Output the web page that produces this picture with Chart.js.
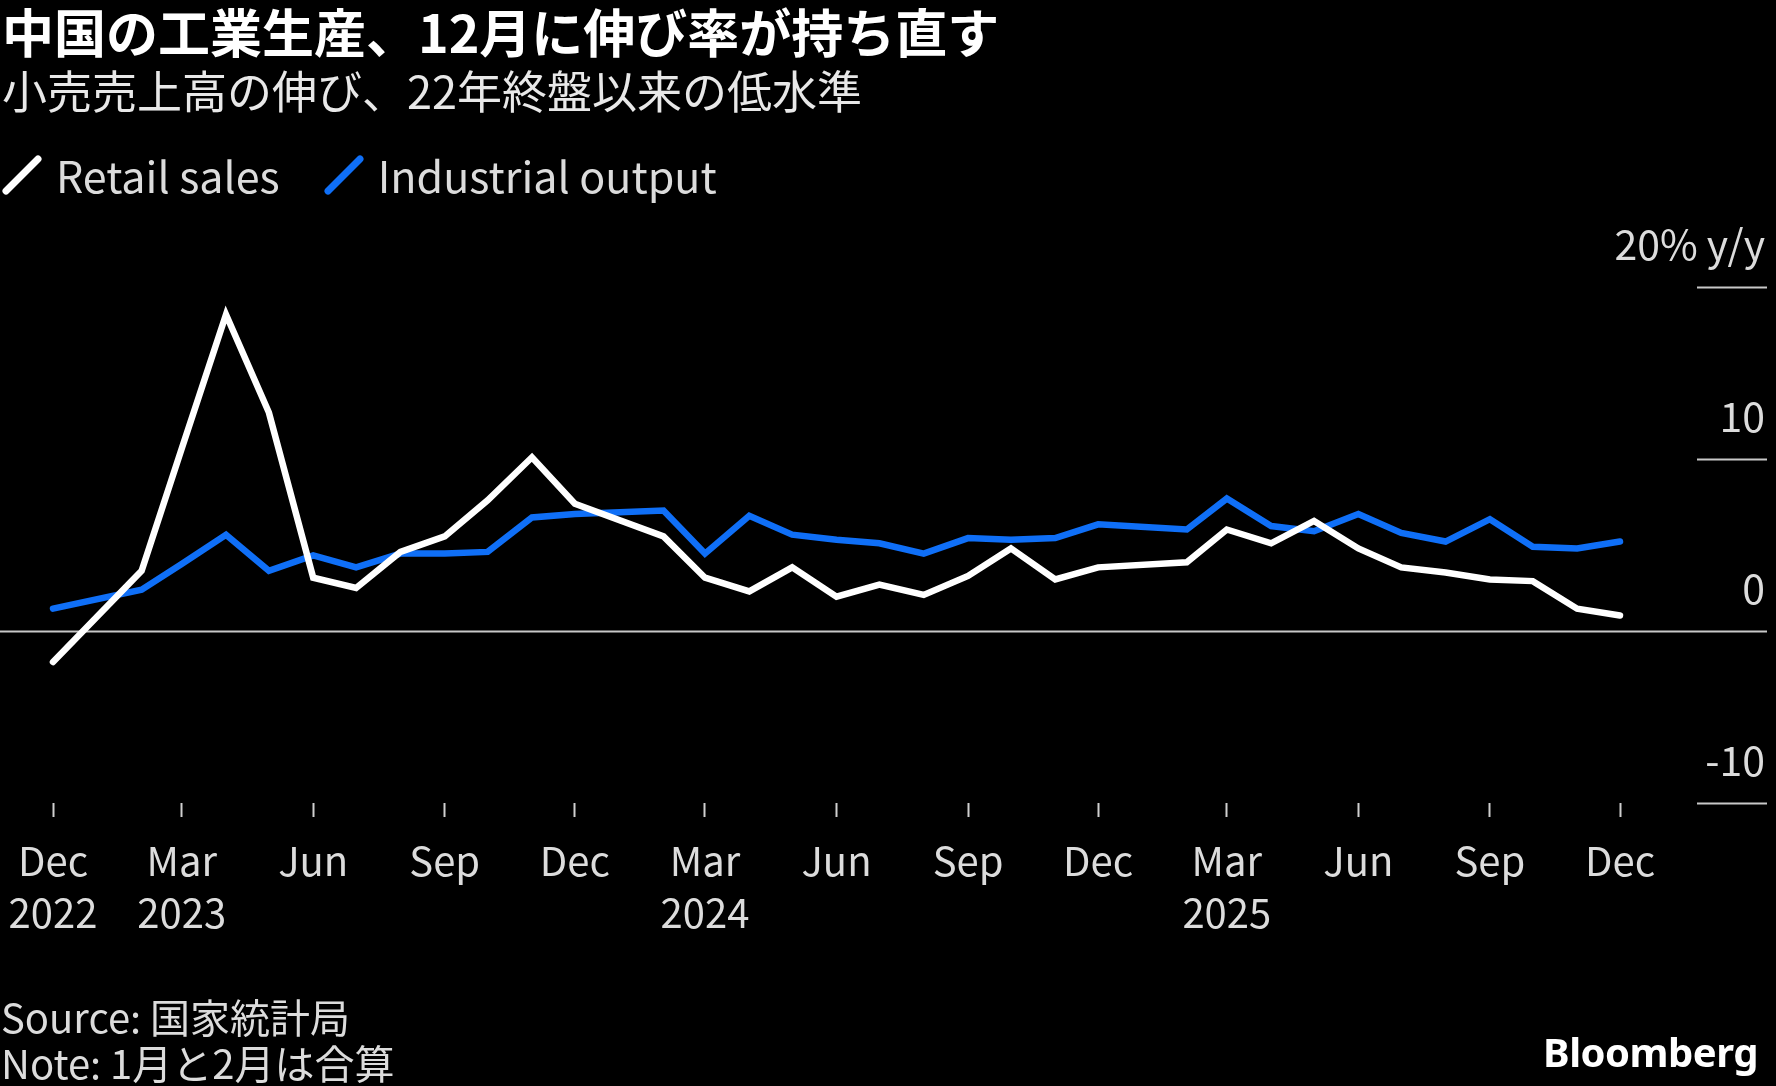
<!DOCTYPE html>
<html>
<head>
<meta charset="utf-8">
<script src="https://cdn.jsdelivr.net/npm/chart.js@4.4.1/dist/chart.umd.min.js"></script>
<style>
  html, body { margin: 0; padding: 0; background: #000; }
  body { width: 1776px; height: 1086px; position: relative; overflow: hidden; font-family: "Noto Sans CJK JP", sans-serif; }
  #wrap { position: absolute; left: 0; top: 0; width: 1776px; height: 1086px; }
  .txt { position: absolute; white-space: nowrap; line-height: 1; }
  #title { left: 2px; top: 5px; font-size: 52px; font-weight: 700; color: #fff; }
  #subtitle { left: 2px; top: 67px; font-size: 45px; color: #e8e8e8; }
  #legend { left: 2px; top: 153px; font-size: 43px; color: #dcdcdc; display: flex; align-items: center; }
  #legend svg { margin-right: 14px; }
  #legend span { margin-right: 44px; }
  #source { left: 1px; top: 996px; font-size: 40px; color: #dcdcdc; }
  #note { left: 1px; top: 1042px; font-size: 40px; color: #dcdcdc; }
  #logo { right: 18px; top: 1032px; font-family: "Noto Sans", sans-serif; font-size: 40px; font-weight: 700; color: #fff; letter-spacing: -0.5px; }
</style>
</head>
<body>
<div id="wrap"><canvas id="myChart"></canvas></div>
<div class="txt" id="title">中国の工業生産、12月に伸び率が持ち直す</div>
<div class="txt" id="subtitle">小売売上高の伸び、22年終盤以来の低水準</div>
<div class="txt" id="legend">
  <svg width="40" height="40"><line x1="4" y1="36" x2="36" y2="4" stroke="#ffffff" stroke-width="7" stroke-linecap="round"/></svg><span>Retail sales</span>
  <svg width="40" height="40"><line x1="4" y1="36" x2="36" y2="4" stroke="#0f6ff7" stroke-width="7" stroke-linecap="round"/></svg><span>Industrial output</span>
</div>
<div class="txt" id="source">Source: 国家統計局</div>
<div class="txt" id="note">Note: 1月と2月は合算</div>
<div class="txt" id="logo">Bloomberg</div>
<script>
const months = [
  "Dec 2022",
  "Jan 2023", "Feb 2023", "Mar 2023", "Apr 2023", "May 2023", "Jun 2023",
  "Jul 2023", "Aug 2023", "Sep 2023", "Oct 2023", "Nov 2023", "Dec 2023",
  "Jan 2024", "Feb 2024", "Mar 2024", "Apr 2024", "May 2024", "Jun 2024",
  "Jul 2024", "Aug 2024", "Sep 2024", "Oct 2024", "Nov 2024", "Dec 2024",
  "Jan 2025", "Feb 2025", "Mar 2025", "Apr 2025", "May 2025", "Jun 2025",
  "Jul 2025", "Aug 2025", "Sep 2025", "Oct 2025", "Nov 2025", "Dec 2025",
];
// January is combined with February, so it stays empty
const retailSales = [
  -1.8,
  null, 3.5, 10.6, 18.4, 12.7, 3.1, 2.5, 4.6, 5.5, 7.6, 10.1, 7.4,
  null, 5.5, 3.1, 2.3, 3.7, 2.0, 2.7, 2.1, 3.2, 4.8, 3.0, 3.7,
  null, 4.0, 5.9, 5.1, 6.4, 4.8, 3.7, 3.4, 3.0, 2.9, 1.3, 0.9,
];
const industrialOutput = [
  1.3,
  null, 2.4, 3.9, 5.6, 3.5, 4.4, 3.7, 4.5, 4.5, 4.6, 6.6, 6.8,
  null, 7.0, 4.5, 6.7, 5.6, 5.3, 5.1, 4.5, 5.4, 5.3, 5.4, 6.2,
  null, 5.9, 7.7, 6.1, 5.8, 6.8, 5.7, 5.2, 6.5, 4.9, 4.8, 5.2,
];
const tickMonths = ["Mar", "Jun", "Sep", "Dec"];
const yearLabels = { "Dec 2022": "2022", "Mar 2023": "2023", "Mar 2024": "2024", "Mar 2025": "2025" };
const yTicks = [-10, 0, 10, 20];
const yTickLabels = ["-10", "0", "10", "20% y/y"];

const monthNames = ["Jan", "Feb", "Mar", "Apr", "May", "Jun", "Jul", "Aug", "Sep", "Oct", "Nov", "Dec"];
// days since the first month, so the x axis runs on real time like the original
const toDate = (m) => {
  const p = m.split(" ");
  return Date.UTC(+p[1], monthNames.indexOf(p[0]), 1);
};
const t0 = toDate(months[0]);
const dayOf = (m) => Math.round((toDate(m) - t0) / 86400000);
const isTick = (m) => tickMonths.includes(m.split(" ")[0]);
const toPoints = (arr) => arr.map((v, i) => ({ x: dayOf(months[i]), y: v }));

// right-hand value labels and the short grid stubs, zero line across the page
const yLabelsPlugin = {
  id: "yLabels",
  beforeDatasetsDraw(chart) {
    const c = chart.ctx;
    const y = chart.scales.y;
    c.save();
    c.strokeStyle = "#c8c8c8";
    c.lineWidth = 2;
    yTicks.forEach((v) => {
      const py = Math.round(y.getPixelForValue(v)) + 0.5;
      c.beginPath();
      c.moveTo(v === 0 ? 0 : 1697, py);
      c.lineTo(1767, py);
      c.stroke();
    });
    c.restore();
  },
  afterDraw(chart) {
    const c = chart.ctx;
    const y = chart.scales.y;
    c.save();
    c.fillStyle = "#dcdcdc";
    c.font = '41px "Noto Sans CJK JP"';
    c.textAlign = "right";
    c.textBaseline = "middle";
    yTicks.forEach((v, i) => {
      c.fillText(yTickLabels[i], 1765, y.getPixelForValue(v) - 43);
    });
    c.restore();
  },
};

const ctx = document.getElementById("myChart");
const data = {
  datasets: [
    {
      label: "Retail sales",
      data: toPoints(retailSales),
      borderColor: "#ffffff",
      borderWidth: 6.5,
      pointRadius: 0,
      tension: 0,
      spanGaps: true,
      borderCapStyle: "round",
      clip: false,
    },
    {
      label: "Industrial output",
      data: toPoints(industrialOutput),
      borderColor: "#0f6ff7",
      borderWidth: 6.5,
      pointRadius: 0,
      tension: 0,
      spanGaps: true,
      borderCapStyle: "round",
      clip: false,
    },
  ],
};
const config = {
  type: "line",
  data: data,
  options: {
    responsive: true,
    maintainAspectRatio: false,
    animation: false,
    layout: { padding: { left: 53, right: 156, top: 287, bottom: 128 } },
    plugins: { legend: { display: false }, tooltip: { enabled: false } },
    scales: {
      x: {
        type: "linear",
        min: 0,
        max: dayOf(months[months.length - 1]),
        border: { display: false },
        grid: {
          drawOnChartArea: false,
          drawTicks: true,
          tickLength: 14,
          tickWidth: 2,
          tickColor: "#cfcfcf",
        },
        afterBuildTicks: (scale) => {
          scale.ticks = months.filter(isTick).map((m) => ({ value: dayOf(m) }));
        },
        ticks: {
          autoSkip: false,
          maxRotation: 0,
          padding: 18,
          color: "#dcdcdc",
          font: { family: "Noto Sans CJK JP", size: 40, lineHeight: 1.3 },
          callback: function (val) {
            const m = months.find((mm) => dayOf(mm) === val);
            if (!m) return "";
            const parts = m.split(" ");
            return yearLabels[m] ? [parts[0], parts[1]] : parts[0];
          },
        },
        afterFit: (scale) => {
          scale.height = 155;
          scale.paddingLeft = 0;
          scale.paddingRight = 0;
        },
      },
      y: {
        display: false,
        min: -10,
        max: 20,
      },
    },
  },
  plugins: [yLabelsPlugin],
};

var myChart = new Chart(ctx, config);
</script>
</body>
</html>
